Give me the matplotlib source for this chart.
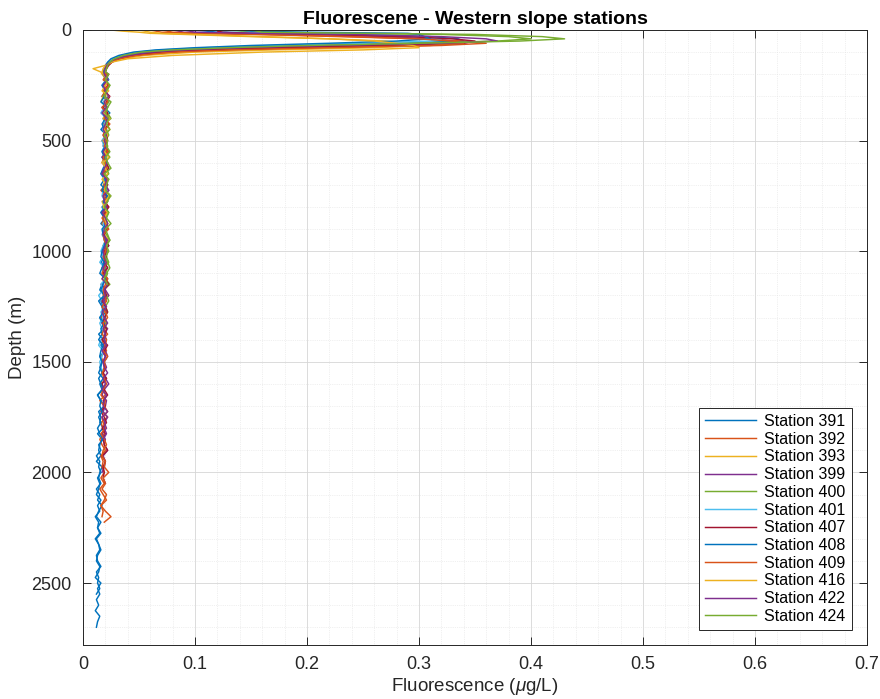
import matplotlib
matplotlib.use("Agg")
import matplotlib.pyplot as plt
from matplotlib.ticker import MultipleLocator, FuncFormatter

plt.rcParams['font.family'] = ['Liberation Sans', 'DejaVu Sans']
plt.rcParams['mathtext.fontset'] = 'custom'
plt.rcParams['mathtext.it'] = 'Liberation Sans:italic'

# station names (legend order = plotting order)
stations = ['391', '392', '393', '399', '400', '401', '407', '408', '409', '416', '422', '424']

# near-surface depth levels (m) shared by all casts
top_depth = [0, 5, 10, 15, 20, 30, 40, 50, 60, 70, 80, 90, 100, 115, 130, 145, 160, 175, 190]

# deep depth levels (m), every 25 m from 200 m
deep_depth = [200, 225, 250, 275, 300, 325, 350, 375, 400, 425, 450, 475, 500,
              525, 550, 575, 600, 625, 650, 675, 700, 725, 750, 775, 800, 825, 850, 875, 900,
              925, 950, 975, 1000, 1025, 1050, 1075, 1100, 1125, 1150, 1175, 1200, 1225, 1250,
              1275, 1300, 1325, 1350, 1375, 1400, 1425, 1450, 1475, 1500, 1525, 1550, 1575,
              1600, 1625, 1650, 1675, 1700, 1725, 1750, 1775, 1800, 1825, 1850, 1875, 1900,
              1925, 1950, 1975, 2000, 2025, 2050, 2075, 2100, 2125, 2150, 2175, 2200, 2225,
              2250, 2275, 2300, 2325, 2350, 2375, 2400, 2425, 2450, 2475, 2500, 2525, 2550,
              2575, 2600, 2625, 2650, 2675, 2700]

# fluorescence in units of 0.001 ug/L, upper 190 m
top_fl = {
    '391': [100, 110, 120, 160, 250, 310, 335, 340, 280, 190, 120, 80, 55, 38, 28, 24, 21, 20, 19],
    '392': [60, 65, 70, 90, 150, 230, 300, 340, 360, 320, 230, 140, 85, 50, 33, 26, 22, 20, 19],
    '393': [25, 35, 50, 60, 90, 150, 220, 270, 290, 300, 260, 170, 100, 55, 35, 25, 20, 9, 16],
    '399': [80, 85, 90, 130, 200, 270, 310, 330, 330, 260, 170, 100, 65, 42, 30, 24, 21, 19, 19],
    '400': [130, 140, 150, 230, 320, 380, 400, 370, 290, 190, 120, 75, 50, 35, 28, 24, 22, 21, 20],
    '401': [120, 125, 130, 190, 250, 300, 320, 310, 250, 170, 110, 70, 48, 34, 27, 23, 21, 20, 19],
    '407': [120, 120, 125, 150, 210, 290, 330, 350, 340, 270, 180, 110, 70, 45, 32, 26, 23, 21, 20],
    '408': [140, 150, 200, 290, 300, 305, 310, 280, 220, 150, 100, 65, 45, 32, 25, 22, 20, 19, 18],
    '409': [70, 75, 80, 100, 160, 240, 300, 330, 340, 310, 220, 130, 80, 48, 32, 25, 21, 20, 19],
    '416': [50, 55, 60, 70, 100, 160, 220, 260, 280, 295, 300, 250, 160, 80, 40, 26, 20, 18, 17],
    '422': [90, 95, 100, 150, 240, 320, 360, 370, 320, 220, 140, 90, 60, 40, 29, 24, 21, 20, 19],
    '424': [150, 155, 160, 250, 350, 410, 430, 390, 300, 200, 130, 80, 52, 36, 28, 24, 22, 21, 20],
}

# fluorescence in units of 0.001 ug/L, from 200 m down to the bottom of each cast
deep_fl = {
    '391': [20, 23, 18, 21, 17, 22, 19, 24, 18, 20, 16, 21, 19,
            18, 22, 17, 20, 23, 18, 19, 16, 21, 18, 22, 17, 19, 20, 16, 21, 18, 19, 23, 17,
            19, 16, 20, 18, 22, 17, 15, 19, 16, 18, 21, 15, 17, 19, 14, 18, 16, 20, 15, 17,
            16, 14, 18, 15, 17, 13, 16, 19, 14, 16, 15, 18, 13, 17, 15, 14, 16, 12, 17, 15,
            14, 16, 12, 15, 13, 17, 14, 12, 16, 13, 15, 11, 14, 16, 13, 12, 15, 14, 11, 16,
            13, 15, 12, 14, 11, 15, 13, 12],
    '392': [21, 18, 23, 20, 17, 22, 19, 21, 24, 18, 20, 22, 17,
            20, 23, 19, 17, 21, 18, 22, 20, 16, 21, 19, 23, 18, 20, 17, 22, 19, 21, 18, 20,
            18, 21, 17, 19, 22, 16, 20, 18, 21, 17, 19, 16, 20, 18, 22, 17, 19, 21, 16, 18,
            19, 17, 21, 16, 18, 20, 15, 19, 17, 22, 16, 18, 19, 15, 17, 20, 16, 18, 17, 19,
            16, 19, 15, 18, 21, 16, 18, 17],
    '393': [17, 21, 19, 23, 18, 16, 22, 20, 18, 21, 24, 19, 20,
            22, 18, 20, 17, 23, 19, 21, 18, 20, 24, 17, 19, 22, 20, 18, 21, 19, 23, 18, 20,
            19, 22, 18, 20, 17, 21, 19, 23, 18, 20],
    '399': [20, 22, 18, 21, 19, 23, 17, 20, 22, 19, 21, 18, 20,
            19, 21, 17, 22, 20, 18, 21, 19, 23, 18, 20, 22, 17, 21, 19, 20, 18, 22, 19, 21,
            20, 18, 22, 19, 21, 17, 20, 23, 19, 18, 21, 20, 17, 22, 19, 21, 18, 20, 22, 19,
            21, 18, 20, 23, 19, 17, 21, 20, 18, 22, 19, 21, 17, 20, 19, 22, 18, 20, 19, 17],
    '400': [22, 19, 24, 21, 18, 23, 20, 22, 25, 19, 21, 23, 20,
            22, 20, 24, 19, 21, 23, 18, 22, 20, 25, 21, 19, 23, 20, 22, 18, 21, 24, 20, 22,
            21, 23, 19, 22, 20, 24, 18, 21, 23, 20, 22, 19, 21, 20],
    '401': [19, 21, 17, 20, 22, 18, 19, 16, 21, 19, 18, 20, 17,
            19, 17, 21, 18, 20, 16, 19, 22, 18, 17, 20, 19, 16, 21, 18, 19, 17, 20, 18, 16,
            18, 15, 19, 17, 20, 16, 18, 14, 17, 19, 16, 18, 15, 17, 20, 16, 14, 18, 17, 15,
            16, 18],
    '407': [23, 20, 22, 19, 24, 21, 18, 22, 20, 23, 19, 21, 22,
            20, 22, 18, 21, 23, 19, 20, 22, 18, 21, 19, 23, 20, 18, 22, 21, 19, 20, 23, 19,
            21, 19, 22, 18, 20, 23, 19, 21, 17, 20, 22, 19, 18, 21, 20, 17, 22, 19, 20, 18,
            20, 18, 21, 17, 19, 22, 18, 20, 16, 19, 21, 17, 20, 18, 19, 22, 17, 20, 18, 19,
            18, 20],
    '408': [18, 21, 17, 20, 19, 16, 22, 18, 20, 17, 19, 21, 18,
            20, 17, 19, 21, 18, 16, 20, 19, 17, 22, 18, 20, 16, 19, 21, 17, 18, 20, 19, 17,
            16, 19, 17, 15, 20, 18, 16, 19, 14, 17, 18, 15, 19, 16, 17, 14, 18, 16, 15, 17,
            15, 17, 14, 16, 18, 13, 16, 15, 17, 14, 16, 13, 15, 18, 14, 16, 12, 15, 14, 16,
            13, 15, 14, 12, 16, 13, 15, 11, 14, 13, 16, 12, 14, 15, 12, 13, 16, 12, 14, 13,
            15, 12],
    '409': [21, 19, 23, 18, 20, 22, 17, 21, 19, 24, 20, 18, 21,
            19, 22, 18, 20, 21, 17, 23, 19, 20, 18, 22, 19, 21, 17, 20, 23, 18, 19, 21, 20,
            18, 21, 19, 17, 22, 20, 18, 19, 21, 17, 20, 22, 18, 19, 17, 21, 20, 18, 22, 19,
            20, 17, 19, 21, 18, 16, 20, 19, 22, 17, 18, 20, 16, 19, 21, 18, 17, 20, 19, 23,
            18, 20, 17, 21, 19, 16, 20, 25, 19],
    '416': [18, 22, 20, 17, 23, 19, 21, 18, 24, 20, 19, 22, 18,
            21, 19, 23, 18, 20, 22, 17, 21, 19, 24, 20, 18, 22, 19, 21, 20],
    '422': [19, 22, 18, 20, 23, 19, 21, 17, 22, 20, 18, 21, 19,
            21, 18, 20, 22, 19, 17, 21, 20, 23, 18, 19, 21, 17, 20, 22, 19, 18, 21, 20, 18,
            19, 21, 18, 20, 17, 22, 19, 20, 18, 21, 17, 19, 22, 18, 20, 19, 21, 17, 20, 18,
            19, 22, 18, 20, 17, 21, 19, 18, 22, 17, 20, 19, 21, 18],
    '424': [23, 20, 24, 21, 19, 25, 22, 20, 23, 21, 24, 19, 22,
            21, 24, 20, 22, 25, 19, 23, 21, 20, 24, 22, 19, 23, 21, 25, 20, 22, 24, 21, 23,
            20, 22, 24, 21, 19, 22],
}

# default line colour order
colors = ['#0072BD', '#D95319', '#EDB120', '#7E2F8E', '#77AC30', '#4DBEEE', '#A2142F']

fig = plt.figure(figsize=(8.8, 6.99), dpi=100)
ax = fig.add_axes([0.0943, 0.0773, 0.8909, 0.8798])

for i, st in enumerate(stations):
    deep = deep_fl[st]
    depth = top_depth + deep_depth[:len(deep)]
    fl = [v / 1000 for v in top_fl[st] + deep]
    ax.plot(fl, depth, color=colors[i % len(colors)], lw=1.05, label='Station ' + st)

ax.set_xlim(0, 0.7)
ax.set_ylim(2780, 0)
ax.xaxis.set_major_locator(MultipleLocator(0.1))
ax.xaxis.set_minor_locator(MultipleLocator(0.02))
ax.yaxis.set_major_locator(MultipleLocator(500))
ax.yaxis.set_minor_locator(MultipleLocator(100))
ax.xaxis.set_major_formatter(FuncFormatter(lambda v, p: '%g' % round(v, 2)))
ax.yaxis.set_major_formatter(FuncFormatter(lambda v, p: '%g' % v))

ax.grid(which='major', color='#d6d6d6', lw=0.6)
ax.grid(which='minor', color='#e2e2e2', lw=0.5, ls=':')
ax.set_axisbelow(True)

ax.tick_params(which='major', direction='in', length=6, width=0.7, top=True, right=True,
               labelsize=13, colors='#262626', pad=8)
ax.tick_params(which='minor', length=0)
for s in ax.spines.values():
    s.set_color('#262626')
    s.set_linewidth(0.7)

ax.set_title('Fluorescene - Western slope stations', fontsize=14, fontweight='bold', pad=4)
ax.set_xlabel(r'Fluorescence ($\mu$g/L)', fontsize=13.5, color='#262626', labelpad=2)
ax.set_ylabel('Depth (m)', fontsize=13.5, color='#262626', labelpad=4)

leg = ax.legend(loc='lower right', bbox_to_anchor=(0.981, 0.024), fontsize=11.5,
                frameon=True, fancybox=False, edgecolor='#262626', framealpha=1,
                handlelength=3.2, handletextpad=0.5, labelspacing=0.17, borderpad=0.4,
                borderaxespad=0)
leg.get_frame().set_linewidth(0.7)

fig.savefig('out.png', dpi=100)
